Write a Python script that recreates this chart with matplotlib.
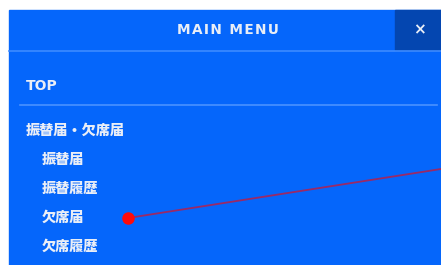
import matplotlib
matplotlib.use('agg')
import matplotlib.pyplot as plt
from matplotlib.patches import Rectangle

W, H = 441, 265

# Menu content
header_title = 'MAIN MENU'
close_label = '×'
top_label = 'TOP'
group_label = '振替届・欠席届'
sub_items = ['振替届', '振替履歴', '欠席届', '欠席履歴']
sub_y = [160, 189, 218, 247]

# Pointer annotation (dot on "欠席届", line to the right edge)
pointer_x = [128, 441]
pointer_y = [218, 169]

BLUE = '#0566fb'
DARK = '#0446b0'
TEXT = '#e9eef7'
JP = ['Noto Sans CJK JP', 'DejaVu Sans']

fig = plt.figure(figsize=(W / 100, H / 100), dpi=100)
ax = fig.add_axes([0, 0, 1, 1])
ax.set_xlim(0, W)
ax.set_ylim(H, 0)
ax.axis('off')

# Panel + header
ax.add_patch(Rectangle((9, 10), W - 9, H - 10, color=BLUE, zorder=1))
ax.add_patch(Rectangle((395, 10), W - 395, 40, color=DARK, zorder=2))
ax.plot([9, W], [50.5, 50.5], color='#3d8bff', linewidth=1.2, zorder=3)
# letter-spaced title, hair spaces between letters
ax.text(228, 29.5, '\u200a'.join(header_title), color=TEXT, fontsize=9.8,
        fontweight='bold', ha='center', va='center', family='DejaVu Sans',
        zorder=4)
ax.text(419, 29.5, close_label, color=TEXT, fontsize=11, fontweight='bold',
        ha='center', va='center', family='DejaVu Sans', zorder=4)

# Items
ax.text(26, 85.5, top_label, color=TEXT, fontsize=10, fontweight='bold',
        ha='left', va='center', family='DejaVu Sans', zorder=4)
ax.plot([20, 437], [105, 105], color='#4a92ff', linewidth=1.2, zorder=3)
ax.text(26, 131, group_label, color=TEXT, fontsize=10.2, fontweight='heavy',
        ha='left', va='center', family=JP, zorder=4)
for label, y in zip(sub_items, sub_y):
    ax.text(42, y, label, color=TEXT, fontsize=10.2, fontweight='heavy',
            ha='left', va='center', family=JP, zorder=4)

# Pointer
ax.plot(pointer_x, pointer_y, color='#9a2a66', linewidth=1.3, zorder=5)
ax.plot(pointer_x[:1], pointer_y[:1], 'o', color='#ff0a0a', markersize=9,
        markeredgewidth=0, zorder=6)

fig.savefig('out.png', dpi=100)
